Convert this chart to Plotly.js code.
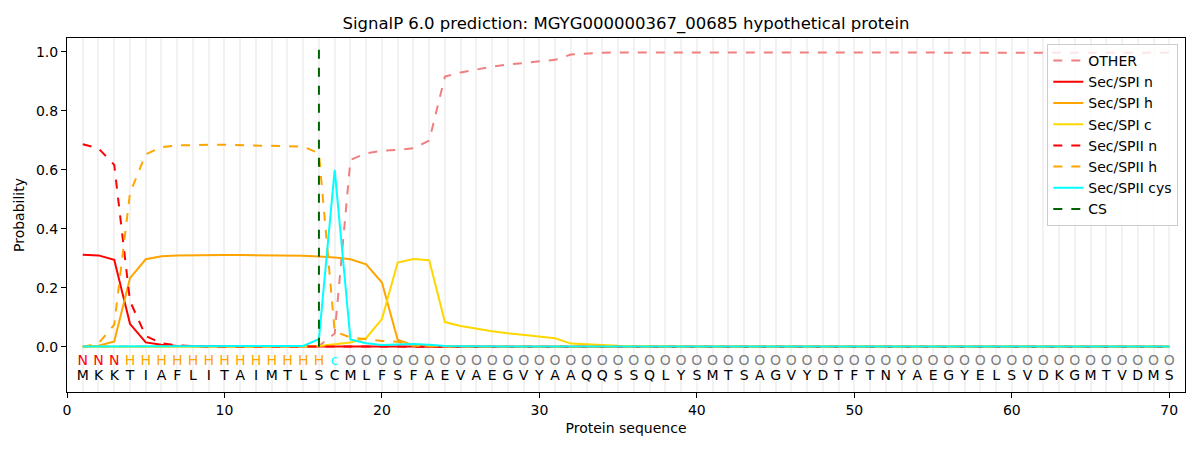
<html><head>
<meta charset="utf8"/>
<title>SignalP 6.0 prediction</title>
<script src="https://cdn.plot.ly/plotly-3.0.1.min.js"></script>
<style>
    * { margin: 0px; padding: 0px }
    #plot { width: 1200px; height: 450px }
</style>
<script>
// residues and per-residue labels
var sequence = "MKKTIAFLITAIMTLSCMLFSFAEVAEGVYAAQQSSQLYSMTSAGVYDTFTNYAEGYELSVDKGMTVDMS";
var labels   = "NNNHHHHHHHHHHHHHcOOOOOOOOOOOOOOOOOOOOOOOOOOOOOOOOOOOOOOOOOOOOOOOOOOOOO";
var cs = 16;

var other = [0.001,0.001,0.001,0.001,0.001,0.001,0.001,0.001,0.001,0.001,
             0.001,0.001,0.001,0.001,0.002,0.003,0.045,0.634,0.656,0.665,
             0.668,0.673,0.699,0.916,0.930,0.941,0.950,0.957,0.963,0.968,
             0.973,0.991,0.995,0.997,0.998,0.998,0.999,0.999,0.999,0.999,
             0.999,0.999,0.999,0.999,0.999,0.999,0.999,0.999,0.999,0.999,
             0.999,0.999,0.999,0.999,0.999,0.998,0.998,0.998,0.998,0.998,
             0.998,0.998,0.997,0.997,0.997,0.997,0.997,0.997,0.997,0.997];
var sp1n = [0.312,0.310,0.295,0.078,0.015,0.007,0.003,0.002,0.001,0.001,
            0.001,0.001,0.001,0.001,0.002,0.003,0.003,0.003,0.002,0.001,
            0.001,0.001,0,0,0,0,0,0,0,0,
            0,0,0,0,0,0,0,0,0,0,
            0,0,0,0,0,0,0,0,0,0,
            0,0,0,0,0,0,0,0,0,0,
            0,0,0,0,0,0,0,0,0,0];
var sp1h = [0.000,0.004,0.018,0.233,0.297,0.307,0.310,0.311,0.311,0.311,
            0.311,0.311,0.311,0.311,0.309,0.306,0.303,0.297,0.280,0.218,
            0.024,0.005,0.002,0.001,0.001,0,0,0,0,0,
            0,0,0,0,0,0,0,0,0,0,
            0,0,0,0,0,0,0,0,0,0,
            0,0,0,0,0,0,0,0,0,0,
            0,0,0,0,0,0,0,0,0,0];
var sp1c = [0,0,0,0,0,0,0,0,0,0,
            0,0,0,0,0.001,0.003,0.008,0.015,0.030,0.094,
            0.286,0.298,0.294,0.084,0.071,0.061,0.053,0.046,0.040,0.035,
            0.029,0.011,0.008,0.006,0.004,0.003,0.002,0.001,0.001,0.001,
            0.001,0.001,0.001,0.001,0.001,0.001,0.001,0.001,0.001,0.001,
            0.001,0.001,0.001,0.001,0.001,0.001,0.001,0.001,0.001,0.001,
            0.001,0.001,0.001,0.001,0.001,0.001,0.001,0.001,0.001,0.001];
var sp2n = [0.687,0.673,0.617,0.155,0.037,0.012,0.005,0.002,0.001,0.001,
            0.001,0.001,0.001,0.001,0.001,0.001,0.001,0.001,0,0,
            0,0,0,0,0,0,0,0,0,0,
            0,0,0,0,0,0,0,0,0,0,
            0,0,0,0,0,0,0,0,0,0,
            0,0,0,0,0,0,0,0,0,0,
            0,0,0,0,0,0,0,0,0,0];
var sp2h = [0.000,0.012,0.075,0.521,0.653,0.677,0.683,0.685,0.685,0.685,
            0.684,0.683,0.682,0.681,0.679,0.656,0.052,0.032,0.025,0.020,
            0.017,0.004,0.002,0.001,0.001,0,0,0,0,0,
            0,0,0,0,0,0,0,0,0,0,
            0,0,0,0,0,0,0,0,0,0,
            0,0,0,0,0,0,0,0,0,0,
            0,0,0,0,0,0,0,0,0,0];
var cys  = [0.001,0.001,0.001,0.001,0.001,0.001,0.001,0.001,0.001,0.001,
            0.001,0.001,0.001,0.001,0.003,0.026,0.600,0.025,0.012,0.006,
            0.008,0.010,0.007,0.003,0.002,0.001,0.001,0.001,0.001,0.001,
            0.001,0.001,0.001,0.001,0.001,0.001,0.001,0.001,0.001,0.001,
            0.001,0.001,0.001,0.001,0.001,0.001,0.001,0.001,0.001,0.001,
            0.001,0.001,0.001,0.001,0.001,0.001,0.001,0.001,0.001,0.001,
            0.001,0.001,0.001,0.001,0.001,0.001,0.001,0.001,0.001,0.001];

var labelColors = { N: "red", H: "orange", c: "cyan", O: "gray" };

window.onload = function(){
    var font = "DejaVu Sans, sans-serif";
    var pos = [];
    var letters = [];
    var tags = [];
    var tagColors = [];
    for (var i = 0; i < sequence.length; i++) {
        pos.push(i + 1);
        letters.push(sequence[i]);
        tags.push(labels[i]);
        tagColors.push(labelColors[labels[i]]);
    }
    function line(name, y, color, dash){
        return { x: pos, y: y, name: name, type: "scatter", mode: "lines",
                 line: { color: color, width: 2, dash: dash } };
    }
    var traces = [
        line("OTHER", other, "#f08080", "dash"),
        line("Sec/SPI n", sp1n, "red", "solid"),
        line("Sec/SPI h", sp1h, "orange", "solid"),
        line("Sec/SPI c", sp1c, "gold", "solid"),
        line("Sec/SPII n", sp2n, "red", "dash"),
        line("Sec/SPII h", sp2h, "orange", "dash"),
        line("Sec/SPII cys", cys, "cyan", "solid"),
        { x: [cs, cs], y: [0, 1.035], name: "CS", type: "scatter", mode: "lines",
          line: { color: "#006400", width: 2, dash: "dash" } },
        { x: pos, y: pos.map(function(){ return -0.05; }), text: tags, mode: "text",
          type: "scatter", showlegend: false, cliponaxis: false, hoverinfo: "skip",
          textfont: { family: font, size: 14, color: tagColors } },
        { x: pos, y: pos.map(function(){ return -0.1; }), text: letters, mode: "text",
          type: "scatter", showlegend: false, cliponaxis: false, hoverinfo: "skip",
          textfont: { family: font, size: 14, color: "black" } }
    ];
    var layout = {
        width: 1200, height: 450,
        margin: { l: 67, r: 15, t: 38, b: 58 },
        paper_bgcolor: "white", plot_bgcolor: "white",
        font: { family: font, size: 14, color: "black" },
        title: { text: "SignalP 6.0 prediction: MGYG000000367_00685 hypothetical protein",
                 font: { family: font, size: 16.5 }, x: 0.5, xref: "paper",
                 y: 0.949, yref: "container", yanchor: "middle" },
        xaxis: {
            range: [0, 71], tickvals: [0, 10, 20, 30, 40, 50, 60, 70],
            showgrid: true, gridcolor: "#f2f2f2", gridwidth: 2,
            minor: { dtick: 1, tick0: 0, showgrid: true, gridcolor: "#f2f2f2", gridwidth: 2, ticklen: 0 },
            zeroline: false, showline: true, mirror: true, linecolor: "black", linewidth: 1,
            ticks: "outside", ticklen: 5, tickcolor: "black",
            title: { text: "Protein sequence", font: { size: 14 }, standoff: 6 }
        },
        yaxis: {
            range: [-0.153, 1.047], tickvals: [0, 0.2, 0.4, 0.6, 0.8, 1.0],
            ticktext: ["0.0", "0.2", "0.4", "0.6", "0.8", "1.0"],
            showgrid: false, zeroline: false, showline: true, mirror: true,
            linecolor: "black", linewidth: 1, ticks: "outside", ticklen: 5, tickcolor: "black",
            title: { text: "Probability", font: { size: 14 }, standoff: 8 }
        },
        legend: {
            x: 0.994, xanchor: "right", y: 0.983, yanchor: "top",
            bgcolor: "rgba(255,255,255,0.8)", bordercolor: "#cccccc", borderwidth: 1,
            font: { family: font, size: 14 }, tracegroupgap: 0
        },
        showlegend: true
    };
    Plotly.newPlot("plot", traces, layout, { displayModeBar: false, staticPlot: true });
};
</script>
</head><body>
<div id="plot"></div>
</body></html>
